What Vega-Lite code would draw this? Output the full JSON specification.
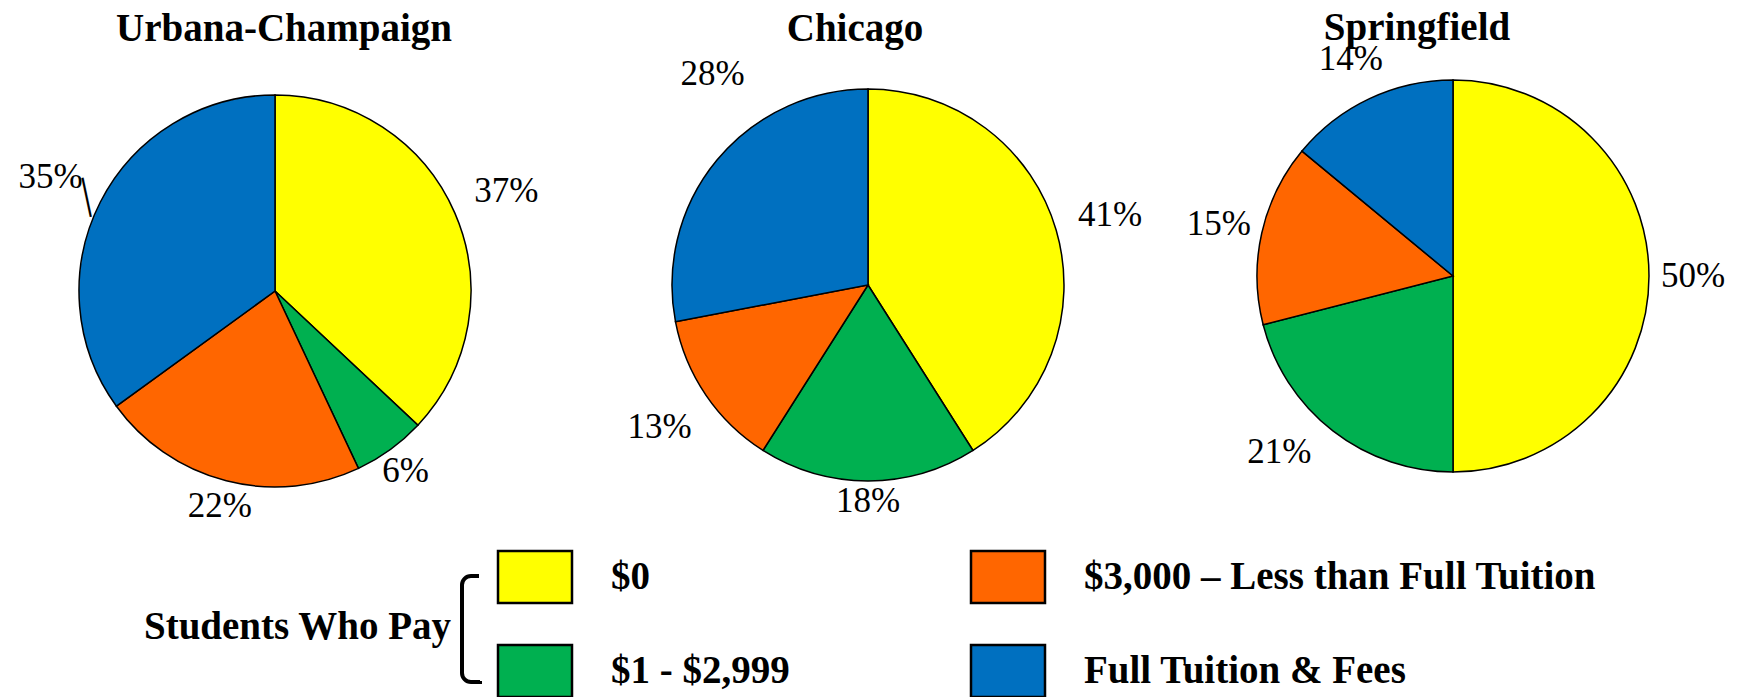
{
  "$schema": "https://vega.github.io/schema/vega-lite/v6.json",
  "background": "white",
  "padding": {"left": 0, "top": 8, "right": 0, "bottom": 0},
  "datasets": {
    "pies": [
      {"campus": "Urbana-Champaign", "cat": "$0", "pct": 0.37},
      {"campus": "Urbana-Champaign", "cat": "$1 - $2,999", "pct": 0.06},
      {"campus": "Urbana-Champaign", "cat": "$3,000 – Less than Full Tuition", "pct": 0.22},
      {"campus": "Urbana-Champaign", "cat": "Full Tuition & Fees", "pct": 0.35},
      {"campus": "Chicago", "cat": "$0", "pct": 0.41},
      {"campus": "Chicago", "cat": "$1 - $2,999", "pct": 0.18},
      {"campus": "Chicago", "cat": "$3,000 – Less than Full Tuition", "pct": 0.13},
      {"campus": "Chicago", "cat": "Full Tuition & Fees", "pct": 0.28},
      {"campus": "Springfield", "cat": "$0", "pct": 0.50},
      {"campus": "Springfield", "cat": "$1 - $2,999", "pct": 0.21},
      {"campus": "Springfield", "cat": "$3,000 – Less than Full Tuition", "pct": 0.15},
      {"campus": "Springfield", "cat": "Full Tuition & Fees", "pct": 0.14}
    ],
    "legend": [
      {"cat": "$0", "col": "A", "row": "1"},
      {"cat": "$1 - $2,999", "col": "A", "row": "2"},
      {"cat": "$3,000 – Less than Full Tuition", "col": "B", "row": "1"},
      {"cat": "Full Tuition & Fees", "col": "B", "row": "2"}
    ]
  },
  "vconcat": [
    {
      "bounds": "flush",
      "spacing": 20,
      "hconcat": [
        {
          "width": 550,
          "height": 478,
          "title": {"text": "Urbana-Champaign", "dx": 9, "offset": 3, "frame": "group"},
          "data": {"name": "pies"},
          "transform": [{"filter": "datum.campus === 'Urbana-Champaign'"}],
          "encoding": {
            "theta": {"field": "pct", "type": "quantitative", "stack": true},
            "order": {"field": "cat", "type": "ordinal", "sort": "ascending"},
            "detail": {"field": "cat", "type": "nominal"}
          },
          "layer": [
            {
              "mark": {"type": "arc", "outerRadius": 196, "stroke": "black", "strokeWidth": 1.5},
              "encoding": {
                "color": {"field": "cat", "type": "nominal", "legend": null,
                  "scale": {"domain": ["$0", "$1 - $2,999", "$3,000 – Less than Full Tuition", "Full Tuition & Fees"],
                            "range": ["#FFFF00", "#00B050", "#FF6600", "#0070C0"]}}
              }
            },
            {
              "mark": {"type": "text", "radius": 252, "font": "Liberation Serif", "fontSize": 35, "color": "black"},
              "encoding": {
                "text": {"condition": {"test": "datum.cat === '$0' || datum.cat === 'Full Tuition & Fees'", "field": "pct", "type": "quantitative", "format": ".0%"}, "value": ""}
              }
            },
            {
              "mark": {"type": "text", "radius": 222, "font": "Liberation Serif", "fontSize": 35, "color": "black"},
              "encoding": {
                "text": {"condition": {"test": "datum.cat === '$1 - $2,999' || datum.cat === '$3,000 – Less than Full Tuition'", "field": "pct", "type": "quantitative", "format": ".0%"}, "value": ""}
              }
            },
            {
              "mark": {"type": "text", "radius": 212, "font": "Liberation Serif", "fontSize": 44, "angle": 348, "color": "black"},
              "encoding": {
                "text": {"condition": {"test": "datum.cat === 'Full Tuition & Fees'", "value": "|"}, "value": ""}
              }
            }
          ]
        },
        {
          "width": 596,
          "height": 466,
          "title": {"text": "Chicago", "dx": -13, "offset": 3, "frame": "group"},
          "data": {"name": "pies"},
          "transform": [{"filter": "datum.campus === 'Chicago'"}],
          "encoding": {
            "theta": {"field": "pct", "type": "quantitative", "stack": true},
            "order": {"field": "cat", "type": "ordinal", "sort": "ascending"},
            "detail": {"field": "cat", "type": "nominal"}
          },
          "layer": [
            {
              "mark": {"type": "arc", "outerRadius": 196, "stroke": "black", "strokeWidth": 1.5},
              "encoding": {
                "color": {"field": "cat", "type": "nominal", "legend": null,
                  "scale": {"domain": ["$0", "$1 - $2,999", "$3,000 – Less than Full Tuition", "Full Tuition & Fees"],
                            "range": ["#FFFF00", "#00B050", "#FF6600", "#0070C0"]}}
              }
            },
            {
              "mark": {"type": "text", "radius": 252, "font": "Liberation Serif", "fontSize": 35, "color": "black"},
              "encoding": {
                "text": {"condition": {"test": "datum.cat === '$0' || datum.cat === '$3,000 – Less than Full Tuition'", "field": "pct", "type": "quantitative", "format": ".0%"}, "value": ""}
              }
            },
            {
              "mark": {"type": "text", "radius": 216, "font": "Liberation Serif", "fontSize": 35, "color": "black"},
              "encoding": {
                "text": {"condition": {"test": "datum.cat === '$1 - $2,999'", "field": "pct", "type": "quantitative", "format": ".0%"}, "value": ""}
              }
            },
            {
              "mark": {"type": "text", "radius": 262, "thetaOffset": 0.245, "font": "Liberation Serif", "fontSize": 35, "color": "black"},
              "encoding": {
                "text": {"condition": {"test": "datum.cat === 'Full Tuition & Fees'", "field": "pct", "type": "quantitative", "format": ".0%"}, "value": ""}
              }
            }
          ]
        },
        {
          "width": 534,
          "height": 448,
          "title": {"text": "Springfield", "dx": -36, "offset": -23, "frame": "group"},
          "data": {"name": "pies"},
          "transform": [{"filter": "datum.campus === 'Springfield'"}],
          "encoding": {
            "theta": {"field": "pct", "type": "quantitative", "stack": true},
            "order": {"field": "cat", "type": "ordinal", "sort": "ascending"},
            "detail": {"field": "cat", "type": "nominal"}
          },
          "layer": [
            {
              "mark": {"type": "arc", "outerRadius": 196, "stroke": "black", "strokeWidth": 1.5},
              "encoding": {
                "color": {"field": "cat", "type": "nominal", "legend": null,
                  "scale": {"domain": ["$0", "$1 - $2,999", "$3,000 – Less than Full Tuition", "Full Tuition & Fees"],
                            "range": ["#FFFF00", "#00B050", "#FF6600", "#0070C0"]}}
              }
            },
            {
              "mark": {"type": "text", "radius": 240, "font": "Liberation Serif", "fontSize": 35, "color": "black"},
              "encoding": {
                "text": {"condition": {"test": "datum.cat !== '$1 - $2,999'", "field": "pct", "type": "quantitative", "format": ".0%"}, "value": ""}
              }
            },
            {
              "mark": {"type": "text", "radius": 247, "thetaOffset": 0.12, "font": "Liberation Serif", "fontSize": 35, "color": "black"},
              "encoding": {
                "text": {"condition": {"test": "datum.cat === '$1 - $2,999'", "field": "pct", "type": "quantitative", "format": ".0%"}, "value": ""}
              }
            }
          ]
        }
      ]
    },
    {
      "width": 1747,
      "height": 132,
      "data": {"name": "legend"},
      "layer": [
        {
          "mark": {"type": "rect", "width": 74, "height": 52, "stroke": "black", "strokeWidth": 2.5},
          "encoding": {
            "x": {"field": "col", "type": "nominal", "axis": null, "scale": {"type": "point", "padding": 0, "domain": ["A", "B"], "range": [535, 1008]}},
            "y": {"field": "row", "type": "nominal", "axis": null, "scale": {"type": "point", "padding": 0, "domain": ["1", "2"], "range": [10, 104]}},
            "color": {"field": "cat", "type": "nominal", "legend": null,
              "scale": {"domain": ["$0", "$1 - $2,999", "$3,000 – Less than Full Tuition", "Full Tuition & Fees"],
                        "range": ["#FFFF00", "#00B050", "#FF6600", "#0070C0"]}}
          }
        },
        {
          "mark": {"type": "text", "align": "left", "baseline": "middle", "dx": 76, "font": "Liberation Serif", "fontSize": 39, "fontWeight": "bold", "color": "black"},
          "encoding": {
            "x": {"field": "col", "type": "nominal"},
            "y": {"field": "row", "type": "nominal"},
            "text": {"field": "cat", "type": "nominal"}
          }
        },
        {
          "data": {"values": [{"label": "Students Who Pay"}]},
          "mark": {"type": "text", "align": "right", "baseline": "middle", "dx": -84, "dy": 50, "font": "Liberation Serif", "fontSize": 39, "fontWeight": "bold", "color": "black"},
          "encoding": {
            "x": {"datum": "A", "type": "nominal"},
            "y": {"datum": "1", "type": "nominal"},
            "text": {"field": "label", "type": "nominal"}
          }
        },
        {
          "data": {"values": [{"label": "bracket"}]},
          "mark": {"type": "rect", "width": 18, "height": 106, "xOffset": -64, "yOffset": 52, "fillOpacity": 0, "stroke": "black", "strokeWidth": 4, "cornerRadiusTopLeft": 10, "cornerRadiusBottomLeft": 10, "strokeDash": [8, 106, 130, 20]},
          "encoding": {
            "x": {"datum": "A", "type": "nominal"},
            "y": {"datum": "1", "type": "nominal"}
          }
        }
      ]
    }
  ],
  "spacing": -9,
  "config": {
    "view": {"stroke": null},
    "font": "Liberation Serif",
    "title": {"font": "Liberation Serif", "fontSize": 39, "fontWeight": "bold", "color": "black"}
  }
}
